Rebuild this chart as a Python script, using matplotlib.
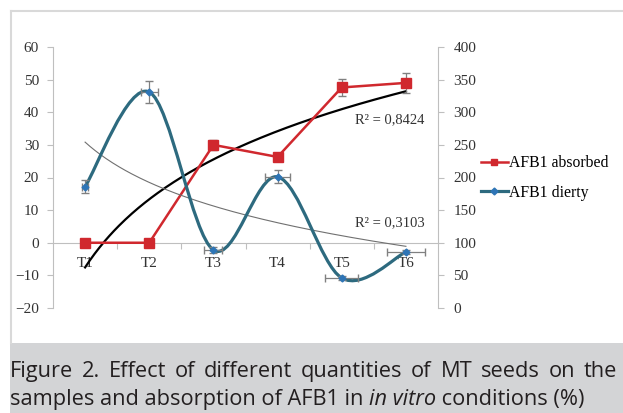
import numpy as np
import matplotlib
matplotlib.use('Agg')
import matplotlib.pyplot as plt
from matplotlib.path import Path
from matplotlib.patches import PathPatch, Rectangle
from matplotlib.lines import Line2D

plt.rc('font', family='Liberation Serif', size=10)

# data
cats = ['T1', 'T2', 'T3', 'T4', 'T5', 'T6']
absorbed = [0, 0, 30, 26.3, 47.6, 49]            # left axis
absorbed_err = [0, 0, 1.5, 0.8, 2.5, 3]
dierty = [186, 331, 89, 201, 46, 86]              # right axis
dierty_yerr = [10, 17, 5, 10, 3, 3]
dierty_xerr = [0.05, 0.13, 0.14, 0.2, 0.26, 0.3]
r2_labels = ['R² = 0,8424', 'R² = 0,3103']

RED = '#d0282e'
TEAL = '#2d6a7f'
BLUE = '#2e75b6'
GRID = '#bfbfbf'

fig = plt.figure(figsize=(6.23, 4.13), dpi=100)

# outer frame and caption band
fig.add_artist(Line2D([11/623, 1], [1-11/413, 1-11/413], color='#d9d9d9', lw=1.5))
fig.add_artist(Line2D([11/623, 11/623], [1-11/413, 1-343/413], color='#d9d9d9', lw=1.5))
fig.add_artist(Rectangle((10/623, 0), 1, 70/413, color='#d3d4d6', lw=0))

ax = fig.add_axes([53/623, 1-308/413, 385/623, 261/413])
ax2 = ax.twinx()
x = np.arange(1, len(cats) + 1)

# left axis
ax.set_xlim(0.5, 6.5)
ax.set_ylim(-20, 60)
ax.set_yticks(range(-20, 61, 10))
for s in ['top', 'right']:
    ax.spines[s].set_visible(False)
ax.spines['left'].set_color(GRID)
ax.spines['bottom'].set_color(GRID)
ax.spines['bottom'].set_position(('data', 0))
ax.set_xticks(np.arange(1.5, 6.5, 1))
ax.set_xticklabels([])
ax.set_xticks(x, minor=True)
ax.set_xticklabels(cats, minor=True)
ax.tick_params(axis='x', which='major', length=4, color=GRID)
ax.tick_params(axis='x', which='minor', length=0, pad=10, labelsize=11, labelcolor='#333333')
ax.tick_params(axis='y', length=4, color=GRID, pad=6, labelsize=11, labelcolor='#333333')

# right axis
ax2.set_ylim(0, 400)
ax2.set_yticks(range(0, 401, 50))
for s in ['top', 'left', 'bottom']:
    ax2.spines[s].set_visible(False)
ax2.spines['right'].set_color(GRID)
ax2.tick_params(axis='y', length=4, color=GRID, pad=7, labelsize=11, labelcolor='#333333')

# log trendlines
xs = np.linspace(1, 6, 200)
b1, a1 = np.polyfit(np.log(x), absorbed, 1)
ax.plot(xs, a1 + b1*np.log(xs), color='black', lw=1.6, zorder=3)
b2, a2 = np.polyfit(np.log(x), dierty, 1)
ax2.plot(xs, a2 + b2*np.log(xs), color='#707070', lw=0.8, zorder=3)

# absorbed series
ax.errorbar(x, absorbed, yerr=absorbed_err, color=RED, lw=1.8, marker='s', ms=6.5,
            ecolor='#808080', elinewidth=0.9, capsize=3, zorder=4)

# dierty series, smoothed like a spreadsheet line
pts = np.column_stack([x, dierty]).astype(float)
ext = np.vstack([pts[0], pts, pts[-1]])
verts = [tuple(pts[0])]
codes = [Path.MOVETO]
for i in range(len(pts) - 1):
    p0, p1, p2, p3 = ext[i], ext[i+1], ext[i+2], ext[i+3]
    verts += [tuple(p1 + (p2 - p0)/6), tuple(p2 - (p3 - p1)/6), tuple(p2)]
    codes += [Path.CURVE4]*3
ax2.add_patch(PathPatch(Path(verts, codes), fill=False, edgecolor=TEAL, lw=2.3, zorder=4))
ax2.errorbar(x, dierty, yerr=dierty_yerr, xerr=dierty_xerr, fmt='none',
             ecolor='#808080', elinewidth=0.9, capsize=3, zorder=5)
ax2.plot(x, dierty, ls='none', marker='D', ms=3.5, color=BLUE, zorder=6)

ax.text(5.75, 37.6, r2_labels[0], ha='center', va='center', fontsize=10.5, color='#333333', zorder=7)
ax.text(5.75, 6.2, r2_labels[1], ha='center', va='center', fontsize=10.5, color='#333333', zorder=7)

handles = [Line2D([], [], color=RED, lw=1.8, marker='s', ms=5),
           Line2D([], [], color=TEAL, lw=2.3, marker='D', ms=3.5, mfc=BLUE, mec=BLUE)]
fig.legend(handles, ['AFB1 absorbed', 'AFB1 dierty'], loc='center left',
           bbox_to_anchor=(467/623, 1-178/413), frameon=False, fontsize=11.3,
           handlelength=1.7, handletextpad=0.1, labelspacing=0.85)

# caption: first line justified, second line left aligned
r = fig.canvas.get_renderer()
cap_kw = dict(family='Open Sans', fontsize=15.7, va='baseline', color='#231f20')
words = 'Figure 2. Effect of different quantities of MT seeds on the'.split()
left, right = 10.0, 617.0
texts = [fig.text(0, 1-377/413, w, **cap_kw) for w in words]
widths = [t.get_window_extent(renderer=r).width for t in texts]
gap = (right - left - sum(widths)) / (len(words) - 1)
xpos = left
for t, w in zip(texts, widths):
    t.set_x(xpos/623)
    xpos += w + gap

parts = [('samples and absorption of AFB1 in ', 'normal'), ('in vitro', 'italic'),
         (' conditions (%)', 'normal')]
xpos = left/623
for txt, st in parts:
    t = fig.text(xpos, 1-405/413, txt, style=st, **cap_kw)
    bb = t.get_window_extent(renderer=r)
    xpos = bb.x1 / fig.bbox.width

fig.savefig('out.png', dpi=100)
